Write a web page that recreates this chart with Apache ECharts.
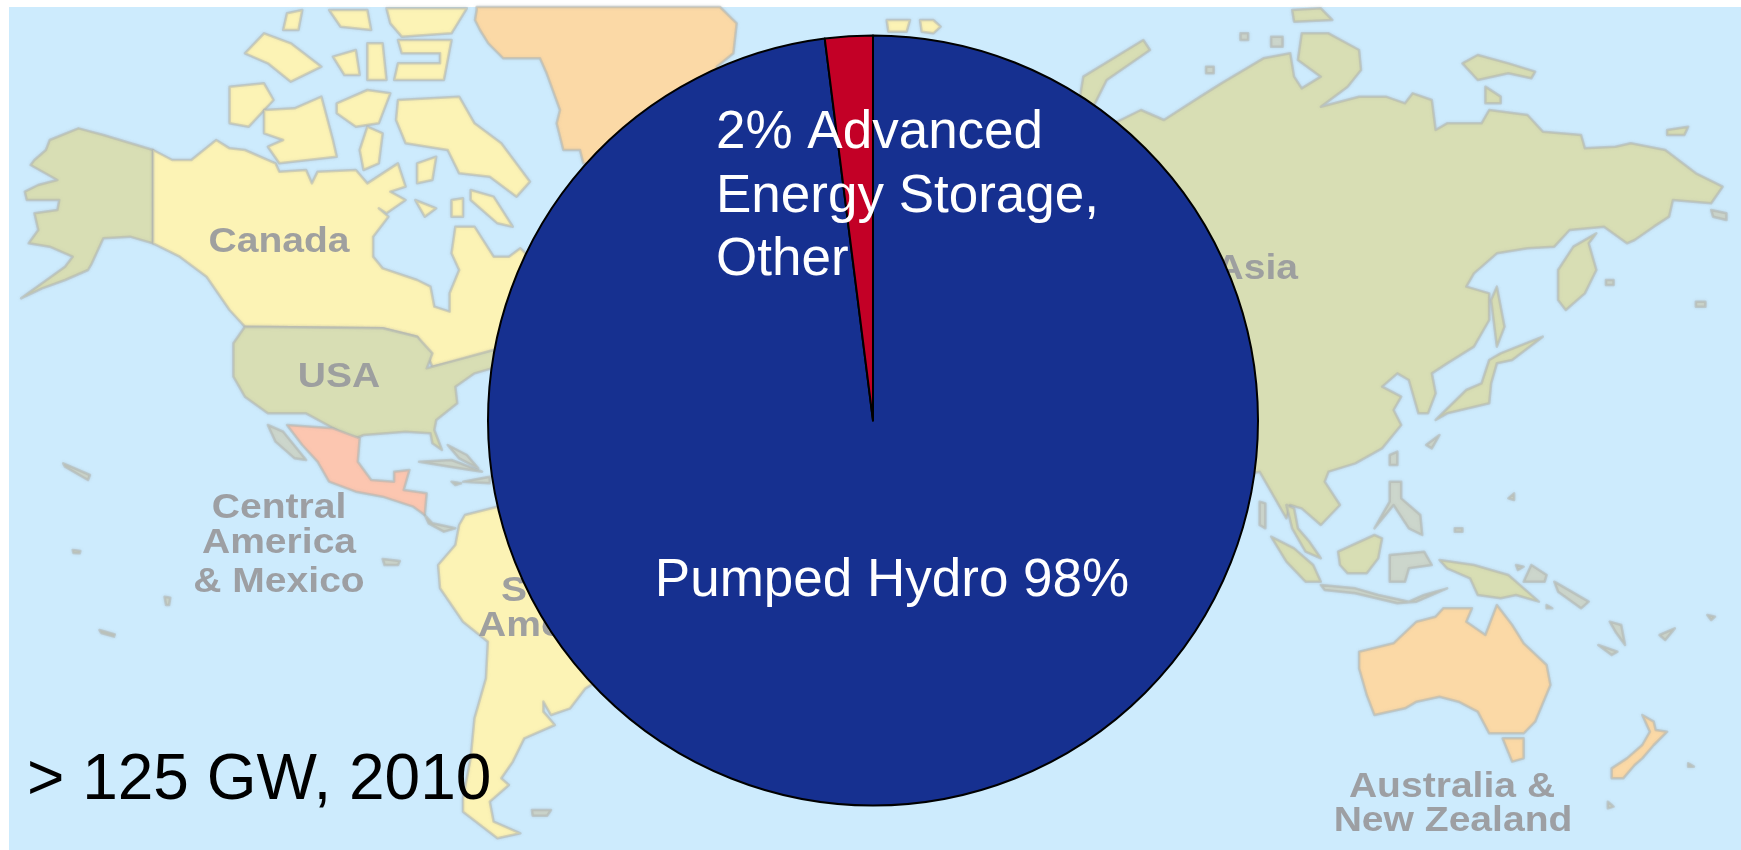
<!DOCTYPE html>
<html>
<head>
<meta charset="utf-8">
<title>Global storage capacity, 2010</title>
<style>html,body{margin:0;padding:0;background:#fff}#chart{width:1741px;height:850px}</style>
<script src="https://cdn.jsdelivr.net/npm/echarts@6/dist/echarts.min.js"></script>
</head>
<body>
<div id="chart"></div>
<script>
// Storage technology shares, percent of installed capacity
const categories = ['Pumped Hydro', 'Advanced Energy Storage, Other'];
const shares = [98, 2];
const sliceLabels = ['Pumped Hydro 98%', '2% Advanced\nEnergy Storage,\nOther'];
const capacityNote = '> 125 GW, 2010';

// Backdrop map outlines, flat x,y lists; each sheet gives its origin and x scale, y is in thirds of a pixel
const SX = 600 / 1568;
const WEST = [0, 0, SX], EAST_N = [1141, 0, SX], EAST_S = [1141, 425, SX], WEST_S = [0, 425, SX];
const ARCTIC = [460, 0, 1 / 3], NORTH = [700, 20, 1 / 3];
const YELLOW = '#fcf3b5', GREEN = '#d8deb4', ORANGE = '#fbd9a6', PINK = '#fcc6b0', GREY = '#ccd6cc';

const mapShapes = [
  // Alaska
  [WEST, GREEN, [130,420,205,385,270,405,400,450,400,730,340,710,270,715,240,790,230,810,170,840,110,865,55,895,110,850,170,800,190,770,130,740,75,730,100,690,90,640,150,630,155,600,70,600,65,575,100,555,150,540,80,495,90,480,120,450]],
  // Canada
  [WEST, YELLOW, [400,450,450,480,500,480,565,420,600,445,640,450,720,490,730,515,800,510,815,550,830,515,930,510,960,550,1040,490,1060,560,1020,575,1060,600,1010,640,990,625,1015,650,975,710,975,770,1000,805,1090,840,1125,860,1135,920,1175,935,1175,880,1200,810,1180,760,1190,680,1240,680,1290,770,1330,770,1360,745,1500,900,1400,1020,1280,1060,1130,1100,1115,1060,1090,1010,1000,985,640,980,600,930,540,830,470,770,400,730]],
  // Arctic islands
  [WEST, YELLOW, [640,160,690,100,760,130,840,200,760,245,700,190]],
  [WEST, YELLOW, [870,170,930,150,940,225,900,225]],
  [WEST, YELLOW, [960,130,1000,130,1010,240,960,240]],
  [WEST, YELLOW, [1040,120,1180,120,1160,240,1030,240,1040,190,1150,190,1150,160,1050,160]],
  [WEST, YELLOW, [750,40,790,30,780,90,740,90]],
  [WEST, YELLOW, [860,30,960,30,970,90,890,80]],
  [WEST, YELLOW, [1010,25,1220,25,1180,100,1050,110,1020,70]],
  [WEST, YELLOW, [600,260,690,250,715,300,650,380,600,370]],
  [WEST, YELLOW, [690,330,770,325,840,290,870,420,880,470,730,490,700,440,740,420,690,400]],
  [WEST, YELLOW, [880,310,960,270,1020,280,990,370,930,380,880,340]],
  [WEST, YELLOW, [960,380,1000,400,990,490,950,510,940,450]],
  [WEST, YELLOW, [1040,300,1200,290,1240,370,1310,430,1385,545,1350,590,1280,530,1200,520,1170,450,1060,430,1035,360]],
  [WEST, YELLOW, [1085,600,1140,625,1110,650]],
  [WEST, YELLOW, [1180,600,1210,595,1210,650,1180,650]],
  [WEST, YELLOW, [1230,570,1290,590,1340,680,1300,670,1230,600]],
  [WEST, YELLOW, [1090,490,1140,470,1130,540,1090,550]],
  // Contiguous United States
  [WEST, GREEN, [640,980,1000,985,1090,1010,1130,1060,1115,1105,1290,1050,1300,1100,1240,1120,1190,1160,1195,1210,1140,1260,1135,1290,1155,1350,1130,1330,1125,1300,1060,1295,950,1305,920,1320,880,1290,800,1240,700,1240,640,1190,610,1130,610,1030]],
  // Mexico and Central America
  [WEST_S, PINK, [750,0,870,10,940,40,935,110,970,165,1030,170,1030,140,1070,135,1055,195,1115,205,1110,270,1080,245,1000,215,930,200,860,170,830,110,790,60]],
  [WEST_S, GREY, [700,0,740,20,800,105,770,100,720,50]],
  [WEST_S, GREY, [1110,270,1130,295,1190,310,1160,320,1120,295]],
  // Caribbean and small Pacific islands
  [WEST_S, GREY, [1095,110,1180,105,1260,140,1200,130]],
  [WEST_S, GREY, [1180,170,1205,175,1190,180]],
  [WEST_S, GREY, [1210,170,1280,155,1280,175]],
  [WEST_S, GREY, [1170,60,1220,90,1250,130,1200,100]],
  [WEST_S, GREY, [165,115,235,150,230,165,170,125]],
  [WEST_S, GREY, [190,375,210,378,208,385,192,384]],
  [WEST_S, GREY, [1000,402,1045,408,1040,420,1005,420]],
  [WEST_S, GREY, [430,515,445,518,442,540,434,540]],
  [WEST_S, GREY, [260,615,300,628,298,635,265,624]],
  [WEST_S, GREY, [1390,1155,1440,1155,1430,1172,1392,1172]],
  // South America
  [WEST_S, YELLOW, [1200,300,1215,270,1300,245,1800,600,1530,790,1490,850,1440,870,1420,830,1420,860,1450,900,1370,940,1340,1010,1310,1060,1330,1080,1280,1130,1290,1190,1360,1225,1300,1240,1210,1160,1210,1120,1230,1000,1240,880,1270,760,1275,650,1210,590,1150,490,1145,420,1190,360]],
  // Greenland
  [ARCTIC, ORANGE, [50,30,50,20,780,20,830,70,820,160,770,200,900,500,370,490,360,450,310,450,290,370,300,330,260,220,240,175,130,175,85,130,60,90,45,60]],
  // Svalbard and Novaya Zemlya
  [NORTH, YELLOW, [560,0,630,0,620,35,565,35]],
  [NORTH, YELLOW, [660,0,700,0,722,20,700,40,665,35]],
  [NORTH, GREEN, [1150,170,1330,60,1350,90,1220,180,1180,260,1140,230]],
  // Asia
  [EAST_N, GREEN, [-300,500,0,330,60,360,155,290,210,250,320,175,390,160,400,230,420,265,470,230,410,180,420,100,490,100,570,150,575,210,540,260,470,320,570,290,640,290,690,310,710,280,760,300,770,390,800,370,890,370,910,330,1010,345,1050,395,1150,405,1160,445,1240,440,1280,430,1370,450,1450,520,1520,560,1490,610,1390,600,1380,650,1340,680,1290,720,1270,730,1210,680,1120,690,1080,740,1010,745,930,760,870,820,850,860,910,880,910,960,870,1040,800,1090,760,1120,770,1180,750,1240,725,1240,700,1140,670,1120,630,1160,680,1190,660,1230,680,1275,630,1345,560,1390,490,1415,480,1445,520,1515,470,1575,420,1525,390,1515,380,1555,340,1475,310,1415,-100,1500]],
  [EAST_N, GREEN, [1090,810,1130,740,1190,700,1170,730,1190,810,1160,880,1110,930,1090,900]],
  [EAST_N, GREEN, [930,860,950,980,930,1040,915,900]],
  [EAST_N, GREEN, [940,1060,1050,1010,970,1080,930,1090,915,1150,910,1210,800,1240,770,1260,850,1170,890,1150,910,1080]],
  [EAST_N, GREEN, [840,190,880,165,960,190,1030,215,1020,235,960,220,880,240]],
  [EAST_N, GREEN, [900,260,940,290,940,310,900,310]],
  [EAST_N, GREEN, [1375,390,1430,380,1420,405,1375,405]],
  [EAST_N, GREEN, [395,30,470,25,500,60,400,65]],
  [EAST_N, GREY, [170,200,190,200,190,220,170,220]],
  [EAST_N, GREY, [260,100,280,100,280,120,260,120]],
  [EAST_N, GREY, [340,110,370,110,370,140,340,140]],
  [EAST_N, GREY, [1490,630,1530,640,1530,660,1495,650]],
  [EAST_N, GREY, [1215,840,1235,840,1235,855,1215,855]],
  [EAST_N, GREY, [1450,905,1475,905,1475,920,1450,920]],
  // South-east Asia and Oceania
  [EAST_S, GREY, [650,90,670,80,670,120,650,120]],
  [EAST_S, GREY, [745,60,780,30,760,70]],
  [EAST_S, GREY, [310,230,325,235,325,310,310,300]],
  [EAST_S, GREY, [650,170,680,170,680,220,730,270,735,330,700,310,660,240,610,310,650,230]],
  [EAST_S, GREEN, [515,380,610,330,630,340,620,400,590,445,540,445,520,420]],
  [EAST_S, GREEN, [340,335,400,370,450,420,470,470,430,470,380,410]],
  [EAST_S, GREEN, [380,240,400,250,410,310,440,350,470,400,430,380,395,310]],
  [EAST_S, GREY, [470,480,560,490,620,510,700,530,740,510,800,490,720,530,670,535,560,505,480,495]],
  [EAST_S, GREY, [650,390,700,385,740,380,760,420,700,430,690,470,650,470]],
  [EAST_S, GREEN, [780,405,870,420,960,450,1000,490,1040,530,980,510,940,520,880,510,860,460,800,430]],
  [EAST_S, ORANGE, [570,680,660,655,720,590,770,575,790,550,865,550,850,590,900,630,930,540,970,600,1000,655,1060,720,1070,780,1030,890,1000,925,910,925,880,860,830,830,780,815,720,830,690,850,610,870,590,810,570,730]],
  [EAST_S, ORANGE, [945,940,1000,940,1000,1000,970,1010]],
  [EAST_S, ORANGE, [1310,870,1340,890,1345,915,1375,920,1340,960,1310,1000,1290,1020,1260,1060,1230,1060,1230,1030,1270,1000,1310,960,1330,920]],
  [EAST_S, GREY, [1080,470,1170,530,1150,550,1090,500]],
  [EAST_S, GREY, [1225,590,1255,600,1265,660,1240,620]],
  [EAST_S, GREY, [1355,630,1395,610,1370,645]],
  [EAST_S, GREY, [1195,660,1245,680,1230,690]],
  [EAST_S, GREY, [1480,570,1500,575,1490,585]],
  [EAST_S, GREY, [1220,1130,1235,1145,1220,1150]],
  [EAST_S, GREY, [1430,1015,1445,1025,1430,1025]],
  [EAST_S, GREY, [960,220,975,205,975,225]],
  [EAST_S, GREY, [820,310,840,310,840,320,820,320]],
  [EAST_S, GREY, [1060,540,1075,550,1060,550]],
  [EAST_S, GREY, [980,420,1000,425,985,435]],
  [EAST_S, GREY, [1020,420,1060,450,1055,470,1000,470]]
];

// Region names: text, anchor x, baseline y, alignment
const regionNames = [
  ['Canada', 279, 254, 'center'],
  ['USA', 339, 389, 'center'],
  ['Central', 279, 520, 'center'],
  ['America', 279, 555, 'center'],
  ['& Mexico', 279, 594, 'center'],
  ['South', 501, 603, 'left'],
  ['America', 478, 638, 'left'],
  ['Asia', 1298, 281, 'right'],
  ['Australia &', 1452, 799, 'center'],
  ['New Zealand', 1453, 833, 'center']
];

const FONT = '"Liberation Sans", Arial, sans-serif';

const backdrop = [{
  type: 'rect',
  shape: { x: 9, y: 7, width: 1732, height: 843 },
  style: { fill: '#cdebfd' },
  silent: true
}];

mapShapes.forEach(([origin, fill, flat]) => {
  const points = [];
  for (let i = 0; i < flat.length; i += 2) {
    points.push([origin[0] + flat[i] * origin[2], Math.max(7, origin[1] + flat[i + 1] / 3)]);
  }
  backdrop.push({
    type: 'polygon',
    shape: { points },
    style: {
      fill,
      stroke: 'rgba(176,180,176,0.5)',
      lineWidth: 2.5,
      lineJoin: 'round',
      shadowColor: 'rgba(176,180,176,0.5)',
      shadowBlur: 3
    },
    silent: true
  });
});

// The map's lettering is stretched sideways along with the rest of the map
regionNames.forEach(([text, x, y, align]) => {
  backdrop.push({
    type: 'text',
    x, y: y - 12,
    scaleX: 1.1,
    style: { text, fill: '#9a9b9e', font: 'bold 35.5px ' + FONT, align, verticalAlign: 'middle', opacity: 0.95 },
    silent: true
  });
});

// Anchor points of the two slice labels
const labelAnchors = [
  { x: 892, y: 581, align: 'center', verticalAlign: 'middle' },
  { x: 716, y: 197, align: 'left', verticalAlign: 'middle' }
];

const chart = echarts.init(document.getElementById('chart'), null, { renderer: 'canvas' });
chart.setOption({
  backgroundColor: '#ffffff',
  animation: false,
  graphic: { elements: backdrop },
  title: {
    text: capacityNote,
    left: 27,
    top: 745,
    padding: 0,
    textStyle: { color: '#000', fontFamily: FONT, fontWeight: 'normal', fontSize: 64, lineHeight: 72 }
  },
  series: [{
    type: 'pie',
    center: [873, 420.5],
    radius: [0, 385],
    startAngle: 90,
    clockwise: true,
    avoidLabelOverlap: false,
    silent: true,
    data: categories.map((name, i) => ({
      name,
      value: shares[i],
      itemStyle: { color: i === 0 ? '#163090' : '#c30026' },
      label: { formatter: sliceLabels[i] }
    })),
    itemStyle: { borderColor: '#000', borderWidth: 2 },
    label: {
      show: true,
      position: 'inside',
      color: '#fff',
      fontFamily: FONT,
      fontSize: 53,
      lineHeight: 63.5,
      align: 'left'
    },
    labelLine: { show: false },
    labelLayout: p => labelAnchors[p.dataIndex]
  }]
});
</script>
</body>
</html>
